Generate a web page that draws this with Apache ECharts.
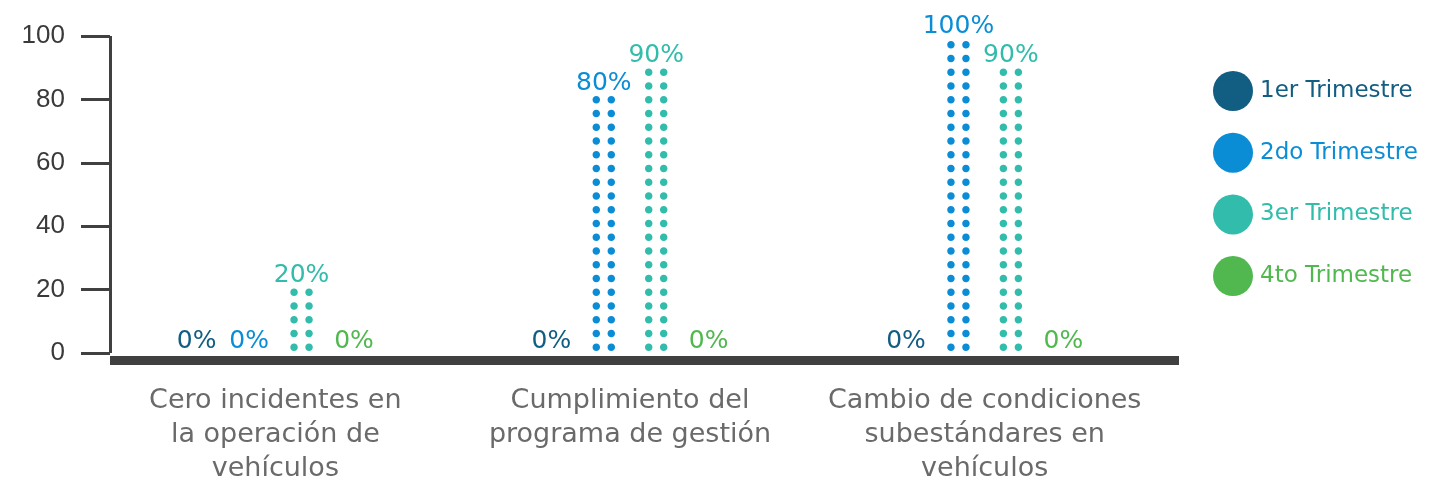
<!DOCTYPE html>
<html>
<head>
<meta charset="utf-8">
<script src="https://cdn.jsdelivr.net/npm/echarts@6/dist/echarts.min.js"></script>
<style>
  html, body { margin: 0; padding: 0; background: #ffffff; }
  #chart { width: 1431px; height: 486px; }
</style>
</head>
<body>
<div id="chart"></div>
<script>
// Indicator categories (x axis)
const categories = [
  'Cero incidentes en\nla operación de\nvehículos',
  'Cumplimiento del\nprograma de gestión',
  'Cambio de condiciones\nsubestándares en\nvehículos'
];
// Quarterly compliance, percent
const q1 = [0, 0, 0];
const q2 = [0, 80, 100];
const q3 = [20, 90, 90];
const q4 = [0, 0, 0];
const seriesNames = ['1er Trimestre', '2do Trimestre', '3er Trimestre', '4to Trimestre'];
const seriesColors = ['#125d82', '#0b8dd6', '#31bcab', '#50b84f'];
const yTicks = [0, 20, 40, 60, 80, 100];

const FONT = 'DejaVu Sans';
// Two round dots side by side (cubic-bezier circles), repeated up the bar
const dotPair = 'path://' +
  'M0,3.75C0,1.68,1.68,0,3.75,0C5.82,0,7.5,1.68,7.5,3.75C7.5,5.82,5.82,7.5,3.75,7.5C1.68,7.5,0,5.82,0,3.75Z' +
  'M15,3.75C15,1.68,16.68,0,18.75,0C20.82,0,22.5,1.68,22.5,3.75C22.5,5.82,20.82,7.5,18.75,7.5C16.68,7.5,15,5.82,15,3.75Z';

const values = [q1, q2, q3, q4];

const chart = echarts.init(document.getElementById('chart'), null, { renderer: 'canvas' });

const series = values.map((vals, i) => ({
  name: seriesNames[i],
  type: 'pictorialBar',
  xAxisIndex: 1,
  yAxisIndex: 1,
  // zero values carry only their label, sitting on the baseline
  data: vals.map(v => (v === 0 ? { value: v, label: { distance: -4 } } : v)),
  barWidth: 22.5,
  barGap: '133%',
  barCategoryGap: '49%',
  symbol: dotPair,
  symbolSize: [22.5, 7.5],
  symbolRepeat: true,
  symbolMargin: '3.25!',
  symbolPosition: 'start',
  symbolOffset: [0, 2],
  itemStyle: { color: seriesColors[i] },
  label: {
    show: true,
    position: 'top',
    distance: -3,
    formatter: '{c}%',
    color: seriesColors[i],
    fontFamily: FONT,
    fontSize: 25
  },
  emphasis: { disabled: true }
}));

chart.setOption({
  animation: false,
  legend: {
    orient: 'vertical',
    left: 1208,
    top: 66,
    itemWidth: 40,
    itemHeight: 40,
    itemGap: 21.7,
    icon: 'circle',
    selectedMode: false,
    data: seriesNames.map((n, i) => ({
      name: n,
      textStyle: { color: seriesColors[i], fontFamily: FONT, fontSize: 23, padding: [0, 0, 0, 2] }
    }))
  },
  grid: [
    // frame: y axis and heavy baseline
    { left: 110, top: 36, width: 1069, height: 317, containLabel: false },
    // marks and category labels
    { left: 98, top: 36, width: 1064, height: 317, containLabel: false }
  ],
  xAxis: [
    {
      gridIndex: 0,
      type: 'value',
      min: 0,
      max: 1,
      offset: 7,
      axisLine: { show: true, onZero: false, lineStyle: { color: '#404040', width: 9, cap: 'butt' } },
      axisTick: { show: false },
      axisLabel: { show: false },
      splitLine: { show: false }
    },
    {
      gridIndex: 1,
      type: 'category',
      data: categories,
      axisLine: { show: false },
      axisTick: { show: false },
      axisLabel: {
        margin: 32,
        color: '#6a6a6a',
        fontFamily: FONT,
        fontSize: 27,
        lineHeight: 34,
        interval: 0
      }
    }
  ],
  yAxis: [
    {
      gridIndex: 0,
      type: 'value',
      min: 0,
      max: 100,
      interval: 20,
      axisLine: { show: true, lineStyle: { color: '#404040', width: 3, cap: 'butt' } },
      axisTick: { show: true, length: 29, lineStyle: { color: '#404040', width: 3 } },
      axisLabel: {
        margin: 45,
        color: '#3a3a3a',
        fontFamily: 'Liberation Sans',
        fontSize: 26,
        formatter: v => (yTicks.indexOf(v) >= 0 ? String(v) : '')
      },
      splitLine: { show: false }
    },
    {
      gridIndex: 1,
      type: 'value',
      min: 0,
      max: 100,
      show: false
    }
  ],
  series: series
});
</script>
</body>
</html>
